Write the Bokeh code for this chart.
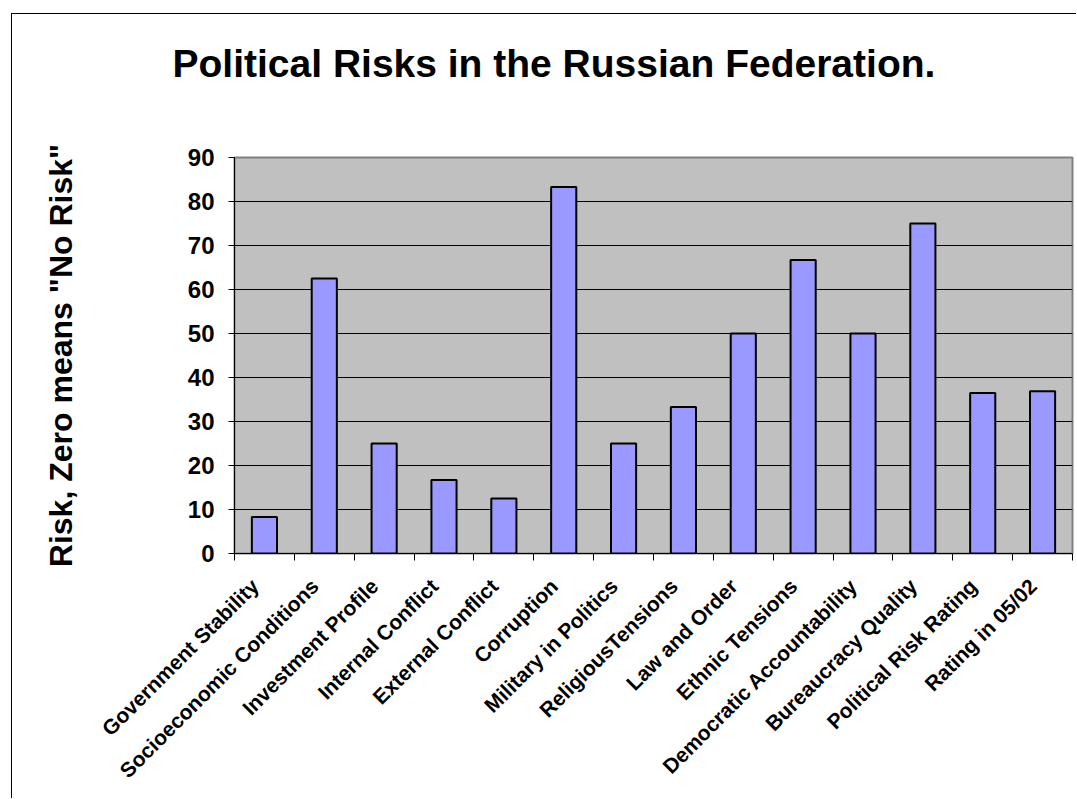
import math

from bokeh.plotting import figure
from bokeh.models import FixedTicker, Range1d, Title
from bokeh.embed import file_html
from bokeh.resources import INLINE

# Risk components for the Russian Federation (0 = no risk)
categories = [
    "Government Stability",
    "Socioeconomic Conditions",
    "Investment Profile",
    "Internal Conflict",
    "External Conflict",
    "Corruption",
    "Military in Politics",
    "ReligiousTensions",
    "Law and Order",
    "Ethnic Tensions",
    "Democratic Accountability",
    "Bureaucracy Quality",
    "Political Risk Rating",
    "Rating in 05/02",
]
risk = [8.3, 62.5, 25.0, 16.7, 12.5, 83.3, 25.0, 33.3, 50.0, 66.7, 50.0, 75.0, 36.5, 36.9]
y_ticks = [0, 10, 20, 30, 40, 50, 60, 70, 80, 90]

FONT = "Liberation Sans"

n = len(categories)
centers = [i + 0.5 for i in range(n)]
boundaries = list(range(n + 1))
# slanted labels hang slightly left of the bar centre
label_pos = [c - 0.16 for c in centers]

p = figure(
    title=None,
    width=1065,
    height=785,
    x_range=Range1d(0, n),
    y_range=Range1d(y_ticks[0], y_ticks[-1]),
    output_backend="svg",
    toolbar_location=None,
    min_border_left=222,
    min_border_right=5,
    min_border_top=143,
    min_border_bottom=246,
    background_fill_color="#C0C0C0",
    border_fill_color="white",
)
p.margin = (13, 0, 0, 11)
p.styles = {"border-top": "1px solid #000000", "border-left": "1px solid #000000"}

# blank gap between the heading and the plot area
p.add_layout(Title(text=" ", text_font_size="1px", standoff=70), "above")
p.add_layout(Title(
    text="Political Risks in the Russian Federation.",
    text_font=FONT, text_font_size="39px", text_font_style="bold",
    text_color="black", align="left", offset=-62, standoff=0,
), "above")

p.vbar(x=centers, top=risk, width=0.42, bottom=0,
       fill_color="#9999FF", line_color="black", line_width=2)

p.outline_line_color = "#808080"
p.outline_line_width = 2

# horizontal grid in black, vertical grid off
p.xgrid.visible = False
p.ygrid.ticker = FixedTicker(ticks=y_ticks[1:-1])
p.ygrid.grid_line_color = "black"
p.ygrid.grid_line_width = 1

# y axis
p.yaxis.ticker = FixedTicker(ticks=y_ticks)
p.yaxis.axis_line_color = "black"
p.yaxis.major_tick_line_color = "black"
p.yaxis.major_tick_out = 6
p.yaxis.major_tick_in = 0
p.yaxis.minor_tick_line_color = None
p.yaxis.major_label_text_font = FONT
p.yaxis.major_label_text_font_size = "24px"
p.yaxis.major_label_text_font_style = "bold"
p.yaxis.major_label_text_color = "black"
p.yaxis.major_label_standoff = 14
p.yaxis.axis_label = 'Risk, Zero means "No Risk"'
p.yaxis.axis_label_text_font = FONT
p.yaxis.axis_label_text_font_size = "32px"
p.yaxis.axis_label_text_font_style = "bold"
p.yaxis.axis_label_text_color = "black"
p.yaxis.axis_label_standoff = 106

# x axis: labels near bar centres, ticks between categories
p.xaxis.ticker = FixedTicker(ticks=label_pos, minor_ticks=boundaries)
p.xaxis.major_label_overrides = {c: name for c, name in zip(label_pos, categories)}
p.xaxis.major_tick_line_color = None
p.xaxis.minor_tick_line_color = "black"
p.xaxis.minor_tick_out = 7
p.xaxis.minor_tick_in = 0
p.xaxis.axis_line_color = "black"
p.xaxis.major_label_orientation = math.pi / 4
p.xaxis.major_label_text_font = FONT
p.xaxis.major_label_text_font_size = "21px"
p.xaxis.major_label_text_font_style = "bold"
p.xaxis.major_label_text_color = "black"
p.xaxis.major_label_standoff = 22

with open("out.html", "w") as f:
    f.write(file_html(p, INLINE))
